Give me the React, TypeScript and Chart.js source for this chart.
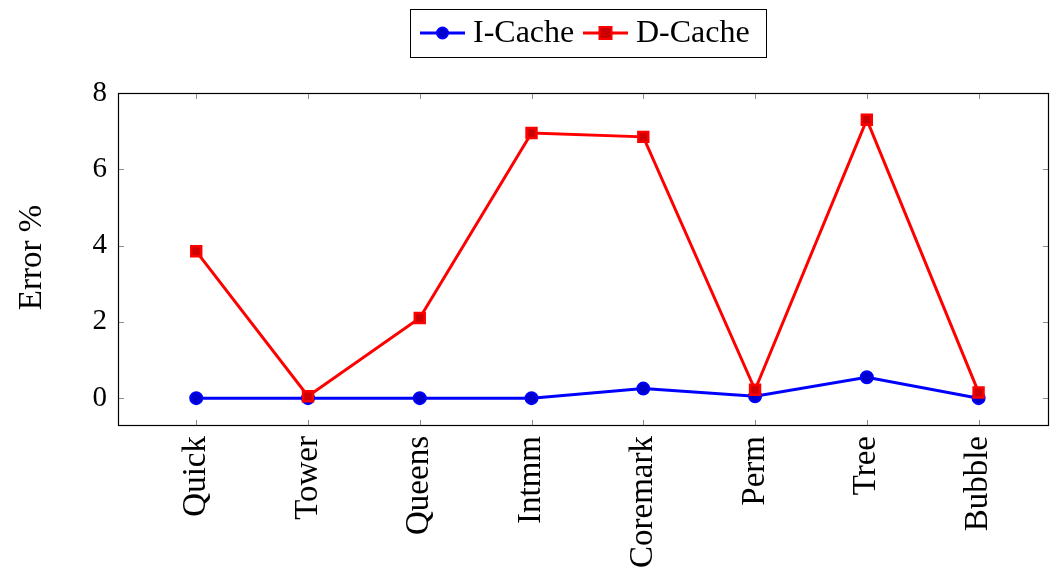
import React, { useEffect, useRef } from "react";
import { Chart, registerables } from "chart.js";

Chart.register(...registerables);

const categories = ["Quick", "Tower", "Queens", "Intmm", "Coremark", "Perm", "Tree", "Bubble"];
const iCache = [0, 0, 0, 0, 0.25, 0.05, 0.55, 0];
const dCache = [3.85, 0.05, 2.1, 6.95, 6.85, 0.22, 7.3, 0.15];
const yTicks = [0, 2, 4, 6, 8];

const FONT = "'Liberation Serif', 'Times New Roman', serif";

const decor = {
  id: "decor",
  beforeDatasetsDraw(chart: any) {
    const { ctx, chartArea: a, scales } = chart;
    ctx.save();
    ctx.strokeStyle = "#8c8c8c";
    ctx.lineWidth = 1;
    const L = 6;
    scales.x.ticks.forEach((t: any) => {
      const x = Math.round(scales.x.getPixelForValue(t.value)) + 0.5;
      ctx.beginPath();
      ctx.moveTo(x, a.bottom);
      ctx.lineTo(x, a.bottom - L);
      ctx.moveTo(x, a.top);
      ctx.lineTo(x, a.top + L);
      ctx.stroke();
    });
    scales.y.ticks.forEach((t: any) => {
      const y = Math.round(scales.y.getPixelForValue(t.value)) + 0.5;
      ctx.beginPath();
      ctx.moveTo(a.left, y);
      ctx.lineTo(a.left + L, y);
      ctx.moveTo(a.right, y);
      ctx.lineTo(a.right - L, y);
      ctx.stroke();
    });
    ctx.restore();
  },
  afterDraw(chart: any) {
    const { ctx, chartArea: a } = chart;
    ctx.save();
    // frame
    ctx.strokeStyle = "#000";
    ctx.lineWidth = 1.2;
    ctx.strokeRect(a.left + 0.5, a.top + 0.5, a.right - a.left - 1, a.bottom - a.top - 1);
    // y title
    ctx.fillStyle = "#000";
    ctx.font = `33px ${FONT}`;
    ctx.translate(32, (a.top + a.bottom) / 2 - 2);
    ctx.rotate(-Math.PI / 2);
    ctx.textAlign = "center";
    ctx.textBaseline = "middle";
    ctx.fillText("Error %", 0, 0);
    ctx.restore();

    // legend
    ctx.save();
    ctx.strokeStyle = "#000";
    ctx.lineWidth = 1;
    ctx.strokeRect(410.5, 9.5, 356, 48);
    const cy = 33;
    const entries = [
      { x: 420, label: "I-Cache", color: "#0000ff", fill: "#0000cc", shape: "circle" },
      { x: 583, label: "D-Cache", color: "#ff0000", fill: "#cc0000", shape: "rect" },
    ];
    ctx.font = `32px ${FONT}`;
    ctx.textBaseline = "middle";
    entries.forEach((e) => {
      ctx.strokeStyle = e.color;
      ctx.lineWidth = 3;
      ctx.beginPath();
      ctx.moveTo(e.x, cy);
      ctx.lineTo(e.x + 45, cy);
      ctx.stroke();
      ctx.fillStyle = e.fill;
      ctx.lineWidth = 2;
      const mx = e.x + 22.5;
      ctx.beginPath();
      if (e.shape === "circle") {
        ctx.arc(mx, cy, 5.5, 0, Math.PI * 2);
      } else {
        ctx.rect(mx - 6, cy - 6, 12, 12);
      }
      ctx.fill();
      ctx.stroke();
      ctx.fillStyle = "#000";
      ctx.textAlign = "left";
      ctx.fillText(e.label, e.x + 53, cy + 1);
    });
    ctx.restore();
  },
};

export default function App() {
  const ref = useRef<HTMLCanvasElement | null>(null);
  useEffect(() => {
    if (!ref.current) return;
    const chart = new Chart(ref.current, {
      type: "line",
      data: {
        datasets: [
          {
            label: "I-Cache",
            data: iCache.map((v, i) => ({ x: i, y: v })),
            borderColor: "#0000ff",
            backgroundColor: "#0000cc",
            pointBackgroundColor: "#0000cc",
            pointBorderColor: "#0000ff",
            pointStyle: "circle",
            pointRadius: 6,
            pointBorderWidth: 2,
            borderWidth: 3,
            order: 2,
            clip: false as any,
          },
          {
            label: "D-Cache",
            data: dCache.map((v, i) => ({ x: i, y: v })),
            borderColor: "#ff0000",
            backgroundColor: "#cc0000",
            pointBackgroundColor: "#cc0000",
            pointBorderColor: "#ff0000",
            pointStyle: "rect",
            pointRadius: 7,
            pointBorderWidth: 2.5,
            borderWidth: 3,
            order: 1,
            clip: false as any,
          },
        ],
      },
      options: {
        responsive: false,
        animation: false,
        layout: { autoPadding: false, padding: { top: 93, right: 2, left: 0, bottom: 0 } },
        plugins: { legend: { display: false }, tooltip: { enabled: false } },
        scales: {
          x: {
            type: "linear",
            min: -0.7,
            max: 7.63,
            grid: { display: false, drawTicks: false },
            border: { display: false },
            afterBuildTicks: (s: any) => {
              s.ticks = categories.map((_, i) => ({ value: i }));
            },
            afterFit: (s: any) => {
              s.height = 145;
              s.paddingLeft = 0;
              s.paddingRight = 0;
            },
            ticks: {
              autoSkip: false,
              maxRotation: 90,
              minRotation: 90,
              padding: 10,
              color: "#000",
              font: { family: FONT, size: 33 },
              callback: (v: any) => categories[v as number] ?? "",
            },
          },
          y: {
            type: "linear",
            min: -0.73,
            max: 8,
            grid: { display: false, drawTicks: false },
            border: { display: false },
            afterBuildTicks: (s: any) => {
              s.ticks = yTicks.map((v) => ({ value: v }));
            },
            afterFit: (s: any) => {
              s.width = 118;
              s.paddingTop = 0;
              s.paddingBottom = 0;
            },
            ticks: {
              padding: 11,
              color: "#000",
              font: { family: FONT, size: 29 },
            },
          },
        },
      },
      plugins: [decor],
    });
    return () => chart.destroy();
  }, []);
  return (
    <div style={{ position: "absolute", left: 0, top: 0, width: 1051, height: 571, background: "#fff" }}>
      <canvas ref={ref} width={1051} height={571} />
    </div>
  );
}
